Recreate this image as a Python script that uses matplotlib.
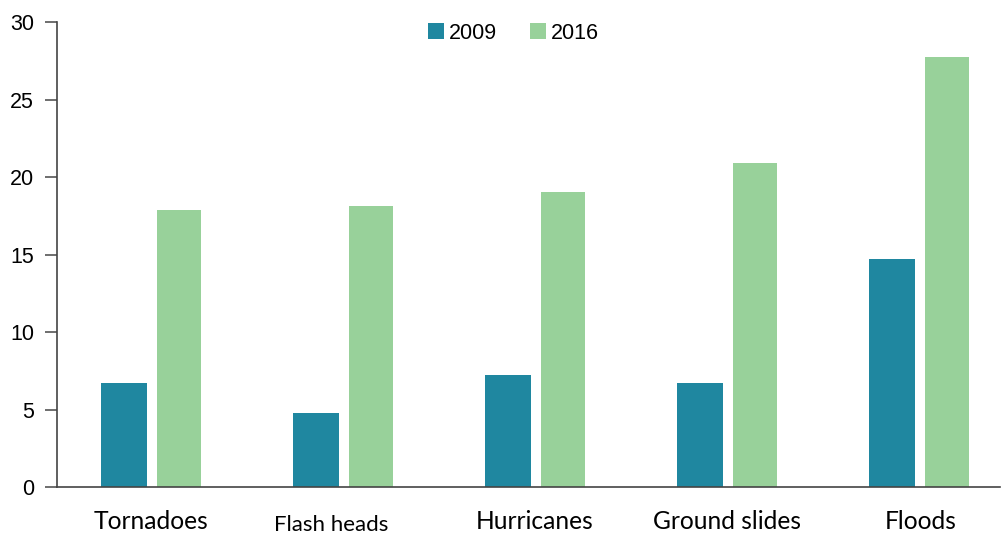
import numpy as np
import matplotlib.pyplot as plt

categories = ["Tornadoes", "Flash heads", "Hurricanes", "Ground slides", "Floods"]
values_2009 = [6.7, 4.75, 7.2, 6.7, 14.7]
values_2016 = [17.85, 18.1, 19.05, 20.9, 27.75]

fig = plt.figure(figsize=(10.03, 5.37), dpi=100)
ax = fig.add_axes([0.0568, 0.093, 0.940, 0.866])

x = np.arange(len(categories))
ax.bar(x - 0.14, values_2009, width=0.24, color="#1f87a0", label="2009")
ax.bar(x + 0.145, values_2016, width=0.23, color="#98d19a", label="2016")

ax.set_xlim(-0.49, 4.42)
ax.set_ylim(0, 30)
ax.set_yticks([0, 5, 10, 15, 20, 25, 30])
ax.tick_params(axis="y", length=8.5, width=1.2, color="#555555", labelsize=15.5,
               pad=8)
for lab in ax.get_yticklabels():
    lab.set_family("Liberation Sans")

# category labels drawn as text so each can be nudged like in the original
ax.set_xticks([])
label_shift = [0.0, -0.06, 0.0, 0.0, 0.01]
label_size = [17.7, 16, 17.7, 17.7, 17.7]
label_y = [-0.075, -0.082, -0.075, -0.075, -0.075]
for i, name in enumerate(categories):
    ax.text(x[i] + label_shift[i], label_y[i], name, transform=ax.get_xaxis_transform(),
            ha="center", va="center", family="Lato", fontsize=label_size[i])

for s in ["top", "right"]:
    ax.spines[s].set_visible(False)
for s in ["left", "bottom"]:
    ax.spines[s].set_color("#444444")
    ax.spines[s].set_linewidth(1.2)

ax.legend(loc="center", bbox_to_anchor=(0.484, 0.976), ncol=2, frameon=False,
          prop={"family": "Liberation Sans", "size": 15.5}, handlelength=0.75,
          handleheight=0.75, handletextpad=0.25, columnspacing=1.5)

fig.savefig("out.png")
